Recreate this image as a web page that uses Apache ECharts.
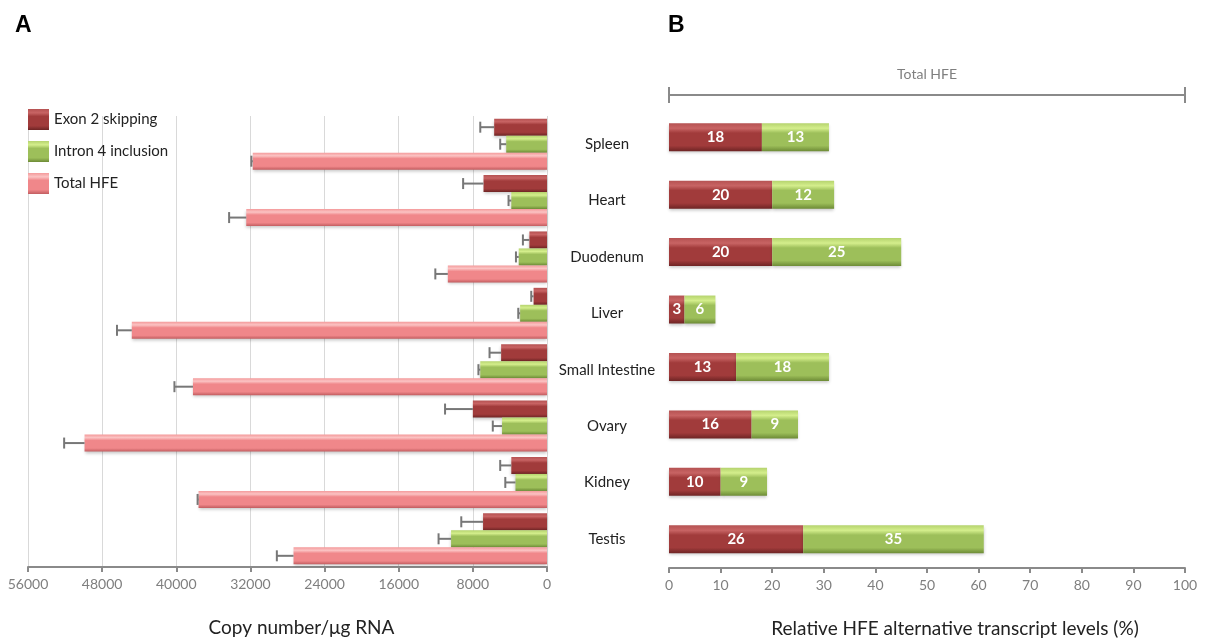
<!DOCTYPE html>
<html>
<head>
<meta charset="utf-8">
<script src="https://cdn.jsdelivr.net/npm/echarts@6/dist/echarts.min.js"></script>
<style>
  html, body { margin: 0; padding: 0; background: #ffffff; }
  #chart { width: 1205px; height: 643px; }
</style>
</head>
<body>
<div id="chart"></div>
<script>
// Tissues, top to bottom
const tissues = ['Spleen', 'Heart', 'Duodenum', 'Liver', 'Small Intestine', 'Ovary', 'Kidney', 'Testis'];

// Panel A: copy number per µg RNA (mean and error)
const exon2Copies   = [5700, 6850, 1900, 1450, 4950, 8000, 3850, 6900];
const exon2Err      = [1500, 2200, 700, 250, 1250, 3000, 1200, 2350];
const intron4Copies = [4400, 3850, 3050, 2900, 7200, 4850, 3400, 10350];
const intron4Err    = [650, 300, 300, 200, 200, 1000, 1100, 1350];
const totalCopies   = [31750, 32450, 10700, 44800, 38200, 49900, 37600, 27350];
const totalErr      = [150, 1850, 1350, 1600, 2000, 2200, 100, 1800];

// Panel B: alternative transcripts as % of total HFE
const exon2Pct   = [18, 20, 20, 3, 13, 16, 10, 26];
const intron4Pct = [13, 12, 25, 6, 18, 9, 9, 35];

// Axis ranges
const copyAxis = { min: 0, max: 56000, interval: 8000 };
const pctAxis  = { min: 0, max: 100, interval: 10 };

const FONT = 'Lato';
const GREY = '#7f7f7f';
const BAR_W = 17;

function bevel(top, hi, mid, low) {
  return new echarts.graphic.LinearGradient(0, 0, 0, 1, [
    { offset: 0, color: top },
    { offset: 0.18, color: hi },
    { offset: 0.35, color: mid },
    { offset: 0.8, color: mid },
    { offset: 1, color: low }
  ]);
}
const redFill   = bevel('#b55252', '#c86464', '#a13b3b', '#6e2424');
const greenFill = bevel('#b5d36e', '#d4ee8c', '#9dbf5a', '#6d8b36');
const pinkFill  = bevel('#f49a9b', '#fbc3c3', '#f0878a', '#c25d60');

const shadow = { shadowColor: 'rgba(0,0,0,0.22)', shadowBlur: 3, shadowOffsetY: 2 };

// Error bar drawn from the bar end outwards, with a cap
function errorBars(values, errs, slot) {
  return {
    type: 'custom',
    xAxisIndex: 0,
    yAxisIndex: 0,
    silent: true,
    z: 5,
    data: values.map((v, i) => [v, i, v + errs[i]]),
    encode: { x: [0, 2], y: 1 },
    renderItem(params, api) {
      const i = api.value(1);
      const a = api.coord([api.value(0), i]);
      const b = api.coord([api.value(2), i]);
      const y = a[1] + slot * BAR_W;
      const st = { stroke: '#777777', lineWidth: 2 };
      return {
        type: 'group',
        children: [
          { type: 'line', shape: { x1: a[0], y1: y, x2: b[0], y2: y }, style: st },
          { type: 'line', shape: { x1: b[0], y1: y - 5.5, x2: b[0], y2: y + 5.5 }, style: st }
        ]
      };
    }
  };
}

const pctLabel = {
  show: true,
  position: 'inside',
  color: '#ffffff',
  fontFamily: FONT,
  fontWeight: 'bold',
  fontSize: 15
};

const chart = echarts.init(document.getElementById('chart'), null, { renderer: 'canvas' });

chart.setOption({
  backgroundColor: '#ffffff',
  animation: false,
  textStyle: { fontFamily: FONT },
  title: [
    { text: 'A', left: 10, top: 9, textStyle: { fontFamily: 'Liberation Sans', fontWeight: 'bold', fontSize: 23, color: '#000' } },
    { text: 'B', left: 663, top: 9, textStyle: { fontFamily: 'Liberation Sans', fontWeight: 'bold', fontSize: 23, color: '#000' } }
  ],
  legend: {
    orient: 'vertical',
    left: 23,
    top: 104,
    itemWidth: 21,
    itemHeight: 21,
    itemGap: 11,
    icon: 'rect',
    data: ['Exon 2 skipping', 'Intron 4 inclusion', 'Total HFE'],
    textStyle: { fontFamily: FONT, fontSize: 15, color: '#222', padding: [0, 0, 0, 0] }
  },
  grid: [
    { left: 28, right: 658, top: 116, bottom: 76 },
    { left: 669, right: 20, top: 108.5, bottom: 75 }
  ],
  xAxis: [
    {
      gridIndex: 0,
      type: 'value',
      inverse: true,
      min: copyAxis.min, max: copyAxis.max, interval: copyAxis.interval,
      axisLine: { show: true, lineStyle: { color: '#8a8a8a', width: 2 } },
      axisTick: { show: true, length: 5, lineStyle: { color: '#8a8a8a', width: 2 } },
      axisLabel: { color: GREY, fontSize: 14, fontFamily: FONT, margin: 10, formatter: v => String(v) },
      splitLine: { show: true, lineStyle: { color: '#d9d9d9', width: 1 } },
      name: 'Copy number/μg RNA',
      nameLocation: 'middle',
      nameGap: 51,
      nameTextStyle: { color: '#222', fontSize: 19, fontFamily: FONT, padding: [0, 0, 0, 28] }
    },
    {
      gridIndex: 1,
      type: 'value',
      min: pctAxis.min, max: pctAxis.max, interval: pctAxis.interval,
      axisLine: { show: true, lineStyle: { color: '#8a8a8a', width: 2 } },
      axisTick: { show: true, length: 5, lineStyle: { color: '#8a8a8a', width: 2 } },
      axisLabel: { color: GREY, fontSize: 14, fontFamily: FONT, margin: 10 },
      splitLine: { show: false },
      name: 'Relative HFE alternative transcript levels (%)',
      nameLocation: 'middle',
      nameGap: 51,
      nameTextStyle: { color: '#222', fontSize: 19, fontFamily: FONT, padding: [0, 0, 0, 56] }
    },
    {
      // bracket spanning the whole 0–100 % of total HFE (upper half of caps)
      gridIndex: 1,
      type: 'value',
      position: 'top',
      offset: 13.5,
      min: pctAxis.min, max: pctAxis.max, interval: pctAxis.max,
      axisLine: { show: true, lineStyle: { color: '#8a8a8a', width: 2 } },
      axisTick: { show: true, length: 8, lineStyle: { color: '#8a8a8a', width: 2 } },
      axisLabel: { show: false },
      splitLine: { show: false },
      name: 'Total HFE',
      nameLocation: 'middle',
      nameGap: 14,
      nameTextStyle: { color: GREY, fontSize: 14, fontFamily: FONT }
    },
    {
      // lower half of the bracket caps
      gridIndex: 1,
      type: 'value',
      position: 'top',
      offset: 13.5,
      min: pctAxis.min, max: pctAxis.max, interval: pctAxis.max,
      axisLine: { show: false },
      axisTick: { show: true, inside: true, length: 8, lineStyle: { color: '#8a8a8a', width: 2 } },
      axisLabel: { show: false },
      splitLine: { show: false }
    }
  ],
  yAxis: [
    {
      // tissue names sit between the two panels, aligned with panel A's groups
      gridIndex: 0,
      type: 'category',
      position: 'right',
      inverse: true,
      data: tissues,
      axisLine: { show: false },
      axisTick: { show: false },
      axisLabel: { show: true, align: 'center', margin: 60, fontSize: 15, color: '#222', fontFamily: FONT },
      splitLine: { show: false }
    },
    {
      gridIndex: 1,
      type: 'category',
      inverse: true,
      data: tissues,
      axisLine: { show: false },
      axisTick: { show: false },
      axisLabel: { show: false },
      splitLine: { show: false }
    }
  ],
  series: [
    {
      name: 'Exon 2 skipping', type: 'bar', xAxisIndex: 0, yAxisIndex: 0,
      barWidth: BAR_W, barGap: '0%',
      itemStyle: Object.assign({ color: redFill }, shadow),
      data: exon2Copies
    },
    {
      name: 'Intron 4 inclusion', type: 'bar', xAxisIndex: 0, yAxisIndex: 0,
      barWidth: BAR_W, barGap: '0%',
      itemStyle: Object.assign({ color: greenFill }, shadow),
      data: intron4Copies
    },
    {
      name: 'Total HFE', type: 'bar', xAxisIndex: 0, yAxisIndex: 0,
      barWidth: BAR_W, barGap: '0%',
      itemStyle: Object.assign({ color: pinkFill }, shadow),
      data: totalCopies
    },
    errorBars(exon2Copies, exon2Err, -1),
    errorBars(intron4Copies, intron4Err, 0),
    errorBars(totalCopies, totalErr, 1),
    {
      name: 'Exon 2 skipping', type: 'bar', xAxisIndex: 1, yAxisIndex: 1,
      stack: 'pct', barWidth: 28,
      itemStyle: Object.assign({ color: redFill }, shadow),
      label: pctLabel,
      data: exon2Pct
    },
    {
      name: 'Intron 4 inclusion', type: 'bar', xAxisIndex: 1, yAxisIndex: 1,
      stack: 'pct', barWidth: 28,
      itemStyle: Object.assign({ color: greenFill }, shadow),
      label: pctLabel,
      data: intron4Pct
    }
  ]
});
</script>
</body>
</html>
